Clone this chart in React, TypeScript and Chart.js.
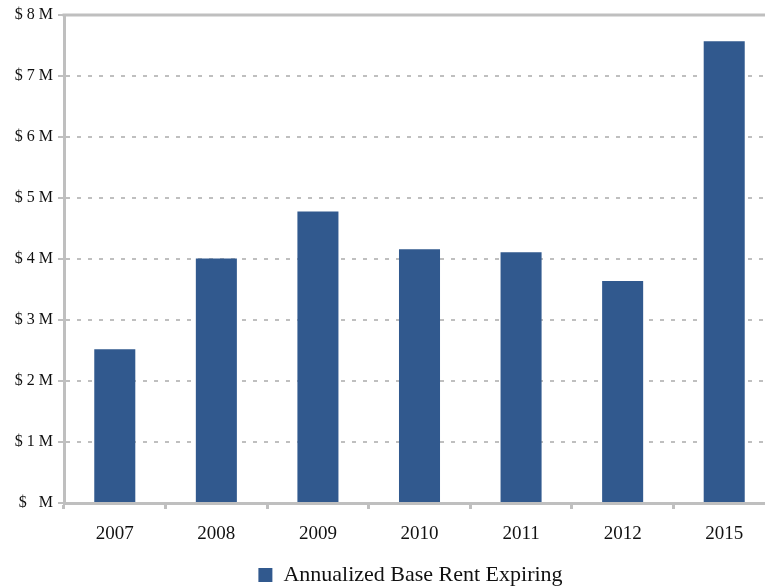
import React, { useEffect, useRef } from "react";
import { Chart, registerables } from "chart.js";

Chart.register(...registerables);

// Lease expiration schedule, annualized base rent in $ millions
const years = ["2007", "2008", "2009", "2010", "2011", "2012", "2015"];
const rentExpiring = [2.52, 4.01, 4.78, 4.16, 4.11, 3.64, 7.57];
const seriesLabel = "Annualized Base Rent Expiring";
const yMax = 8;

const SERIF = "'Liberation Serif', 'Times New Roman', serif";
const AXIS_GREY = "#bfbfbf";
const BAR_BLUE = "#31598e";

// Solid frame line along the top of the plot area
const topFrame = {
  id: "topFrame",
  beforeDatasetsDraw(chart: Chart) {
    const { ctx, chartArea } = chart;
    ctx.save();
    ctx.strokeStyle = AXIS_GREY;
    ctx.lineWidth = 3;
    ctx.beginPath();
    ctx.moveTo(chartArea.left - 1.5, chartArea.top);
    ctx.lineTo(chart.width, chartArea.top);
    ctx.stroke();
    ctx.restore();
  },
};

// Nudge the legend: centre it under the plot area and lower it a little
const legendNudge = {
  id: "legendNudge",
  afterLayout(chart: any) {
    const lg = chart.legend;
    if (!lg) return;
    lg.left += 46;
    lg.top += 8;
    lg.bottom += 8;
  },
};

export default function App() {
  const canvasRef = useRef<HTMLCanvasElement | null>(null);

  useEffect(() => {
    if (!canvasRef.current) return;
    const chart = new Chart(canvasRef.current, {
      type: "bar",
      data: {
        labels: years,
        datasets: [
          {
            label: seriesLabel,
            data: rentExpiring,
            backgroundColor: BAR_BLUE,
            borderWidth: 0,
            barPercentage: 0.404,
            categoryPercentage: 1,
          },
        ],
      },
      options: {
        responsive: false,
        animation: false,
        layout: { padding: { top: 15, left: 0, right: 0, bottom: 0 } },
        plugins: {
          tooltip: { enabled: false },
          legend: {
            position: "bottom",
            labels: {
              font: { family: SERIF, size: 22 },
              color: "#111",
              boxWidth: 14,
              boxHeight: 14,
              padding: 0,
            },
          },
        },
        scales: {
          x: {
            afterFit(scale: any) {
              scale.height = 53;
            },
            grid: {
              offset: true,
              drawOnChartArea: false,
              color: AXIS_GREY,
              lineWidth: 3,
              tickLength: 6,
            },
            border: { color: AXIS_GREY, width: 3 },
            ticks: {
              font: { family: SERIF, size: 19 },
              color: "#111",
              padding: 14,
            },
          },
          y: {
            min: 0,
            max: yMax,
            afterFit(scale: any) {
              scale.width = 64;
            },
            grid: {
              color: AXIS_GREY,
              lineWidth: 2,
              tickLength: 6,
              tickBorderDash: [],
              tickWidth: 2,
            },
            border: { color: AXIS_GREY, width: 3, dash: [4, 7] },
            ticks: {
              stepSize: 1,
              font: { family: SERIF, size: 16 },
              color: "#111",
              padding: 5,
              callback: (v: any) => `$ ${v === 0 ? " " : v} M`,
            },
          },
        },
      },
      plugins: [topFrame, legendNudge],
    });
    return () => chart.destroy();
  }, []);

  return (
    <div
      style={{
        position: "fixed",
        left: 0,
        top: 0,
        width: 765,
        height: 588,
        overflow: "hidden",
        background: "#fff",
      }}
    >
      <canvas ref={canvasRef} width={775} height={588} style={{ display: "block" }} />
    </div>
  );
}
